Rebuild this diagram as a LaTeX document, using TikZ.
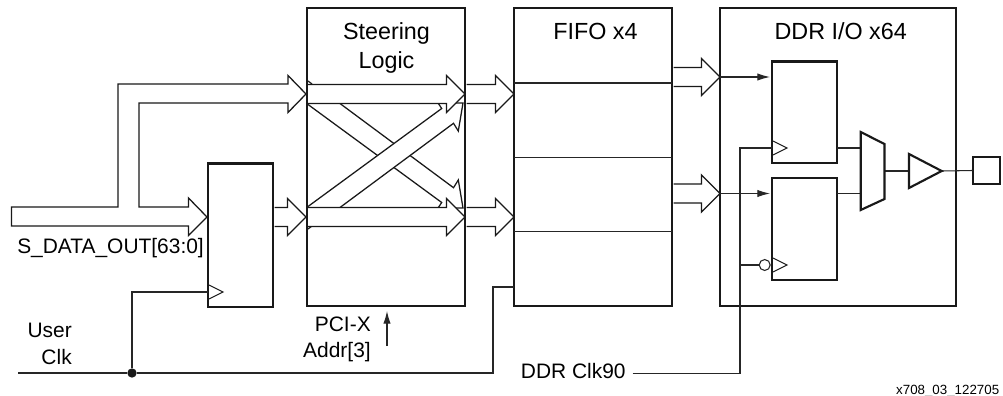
\documentclass[tikz,border=0pt]{standalone}
\usepackage{fontspec}
\setmainfont{Liberation Sans}
\usetikzlibrary{arrows.meta,calc}
\tikzset{
  block/.style={shape=rectangle, draw=black!90, line width=1.6pt, fill=white, inner sep=0pt, outer sep=0pt},
  bus/.style={draw=black!90, line width=0.95pt, fill=white, line join=miter},
  sig/.style={draw=black!85, line width=0.8pt},
  ctl/.style={draw=black!85, line width=0.8pt, -{Latex[length=9.5pt,width=5.5pt]}},
  clkmark/.style={draw=black!90, line width=0.8pt, fill=white},
  head/.style={font=\fontsize{17.5}{21.75}\selectfont, align=center, inner sep=0pt},
  lbl/.style={font=\fontsize{15.7}{19}\selectfont, inner sep=0pt}
}
\newcommand{\busarrow}[2]{\draw[bus] ($(#1)+(0,-9.5)$) -- ($(#2)+(-18.5,-9.5)$) -- ($(#2)+(-18.5,-18.5)$) -- (#2) -- ($(#2)+(-18.5,18.5)$) -- ($(#2)+(-18.5,9.5)$) -- ($(#1)+(0,9.5)$);}
\newcommand{\clktri}[1]{\draw[clkmark] ($(#1)+(1,-7)$) -- ($(#1)+(15,0)$) -- ($(#1)+(1,7)$);}
\begin{document}
\begin{tikzpicture}[x=0.75pt, y=-0.75pt]
\useasboundingbox (0,0) rectangle (1003,396);
\node[block, minimum width=118.5pt, minimum height=223.5pt] (steer) at (386,157) {};
\node[block, minimum width=118.5pt, minimum height=223.5pt] (fifo) at (593,157) {};
\node[block, minimum width=177pt, minimum height=223.5pt] (ddr) at (838,157) {};
\node[block, minimum width=48.75pt, minimum height=107.6pt] (reg) at (240.5,235.25) {};
\node[block, minimum width=48.75pt, minimum height=76.1pt] (ff1) at (804.5,112.25) {};
\node[block, minimum width=48.75pt, minimum height=76.5pt] (ff2) at (804.5,229) {};
\node[block, minimum width=20.5pt, minimum height=20.5pt] (pad) at (986.4,170.5) {};
\node[head] (steerlbl) at (386.5,48) {Steering\\Logic};
\node[head, anchor=base] (fifolbl) at (595.5,39) {FIFO x4};
\node[head, anchor=base] (ddrlbl) at (840.7,39) {DDR I/O x64};
\node[lbl, anchor=base west] (datalbl) at (17,253.5) {S\_DATA\_OUT[63:0]};
\node[lbl, anchor=base east] (userlbl) at (72,337) {User};
\node[lbl, anchor=base east] (clklbl) at (72,364) {Clk};
\node[lbl, anchor=base east] (pcilbl) at (371,331) {PCI-X};
\node[lbl, anchor=base east] (addrlbl) at (371,357) {Addr[3]};
\node[lbl, anchor=base west] (clk90lbl) at (520.7,378) {DDR Clk90};
\node[anchor=base east, inner sep=0pt, font=\fontsize{10}{12}\selectfont] (figid) at (999.5,394) {x708\_03\_122705};
\draw[sig, line width=1.2pt] (fifo.west |- 0,83) -- (fifo.east |- 0,83);
\draw[sig, line width=0.9pt] (fifo.west |- 0,157.5) -- (fifo.east |- 0,157.5);
\draw[sig, line width=0.9pt] (fifo.west |- 0,231.5) -- (fifo.east |- 0,231.5);
\draw[bus] (308,104.5) -- (441.7,202.5) -- (438,208) -- (463,208) -- (458.3,180) -- (453.5,187.7) -- (339.3,103);
\draw[bus] (308,206.5) -- (441.7,108.5) -- (438,103) -- (463,103) -- (458.3,131) -- (453.5,123.3) -- (339.3,208);
\draw[bus] (308,81) -- (312,84);
\draw[bus] (308,229) -- (312,226);
\coordinate (s1in) at (308,94);
\coordinate (s1out) at (465,94);
\coordinate (s2in) at (308,217);
\coordinate (s2out) at (465,217);
\coordinate (s1tail) at (466.5,94);
\coordinate (s2tail) at (466.5,217);
\coordinate (f1in) at (514,94);
\coordinate (f2in) at (514,217);
\coordinate (f3out) at (673.5,77);
\coordinate (f4out) at (673.5,193.5);
\coordinate (d1in) at (720,77);
\coordinate (d2in) at (720,193.5);
\coordinate (regout) at (274.5,217);
\coordinate (steerin) at (306,217);
\busarrow{s1in}{s1out}
\busarrow{s2in}{s2out}
\busarrow{s1tail}{f1in}
\busarrow{s2tail}{f2in}
\busarrow{f3out}{d1in}
\busarrow{f4out}{d2in}
\busarrow{regout}{steerin}
\draw[bus] (11.5,207) -- (118,207) -- (118,84) -- (288,84) -- (288,75.5) -- (306,94) -- (288,112.5) -- (288,103) -- (139,103) -- (139,207) -- (188.5,207) -- (188.5,198) -- (207,217) -- (188.5,235.5) -- (188.5,226) -- (11.5,226) -- cycle;
\coordinate (clkin) at (18,373);
\node[shape=circle, fill=black!90, inner sep=0pt, minimum size=7pt] (jclk) at (132,373) {};
\coordinate (fifoturn) at (493,373);
\coordinate (regclk) at (208,292);
\coordinate (fifoclk) at (514,287);
\coordinate (pcifrom) at (387,346);
\coordinate (pcito) at (387,311);
\coordinate (clk90from) at (632.7,373.7);
\coordinate (clk90turn) at (740,373.7);
\coordinate (ff1clk) at (772,148);
\coordinate (ff2clk) at (772,265);
\coordinate (ff1out) at (837,148);
\coordinate (ff2out) at (837,193.5);
\coordinate (muxa) at (860.7,132);
\coordinate (muxb) at (884.5,144);
\coordinate (muxc) at (884.5,199);
\coordinate (muxd) at (860.7,210);
\coordinate (bufa) at (909,154);
\coordinate (bufb) at (941.7,171);
\coordinate (bufc) at (909,188);
\node[shape=circle, draw=black!85, line width=0.8pt, fill=white, inner sep=0pt, minimum size=8.2pt] (bub) at (764.7,265) {};
\draw[sig] (clkin) -- (jclk) -- (fifoturn) |- (fifoclk);
\draw[sig] (jclk) |- (regclk);
\draw[ctl] (pcifrom) -- (pcito);
\draw[sig] (clk90from) -- (clk90turn) |- (ff1clk);
\draw[sig] (bub.west -| clk90turn) -- (bub.west);
\draw[ctl] (d1in) -- (770,77);
\draw[ctl] (d2in) -- (770,193.5);
\draw[sig] (ff1out) -- (ff1out -| muxa);
\draw[sig] (ff2out) -- (ff2out -| muxa);
\draw[sig] (884.5,171) -- (bufa |- 0,171);
\draw[sig] (bufb) -- (pad.west);
\draw[block, fill=white] (muxa) -- (muxb) -- (muxc) -- (muxd) -- cycle;
\draw[block, fill=white] (bufa) -- (bufb) -- (bufc) -- cycle;
\clktri{regclk}
\clktri{ff1clk}
\clktri{ff2clk}
\end{tikzpicture}
\end{document}
